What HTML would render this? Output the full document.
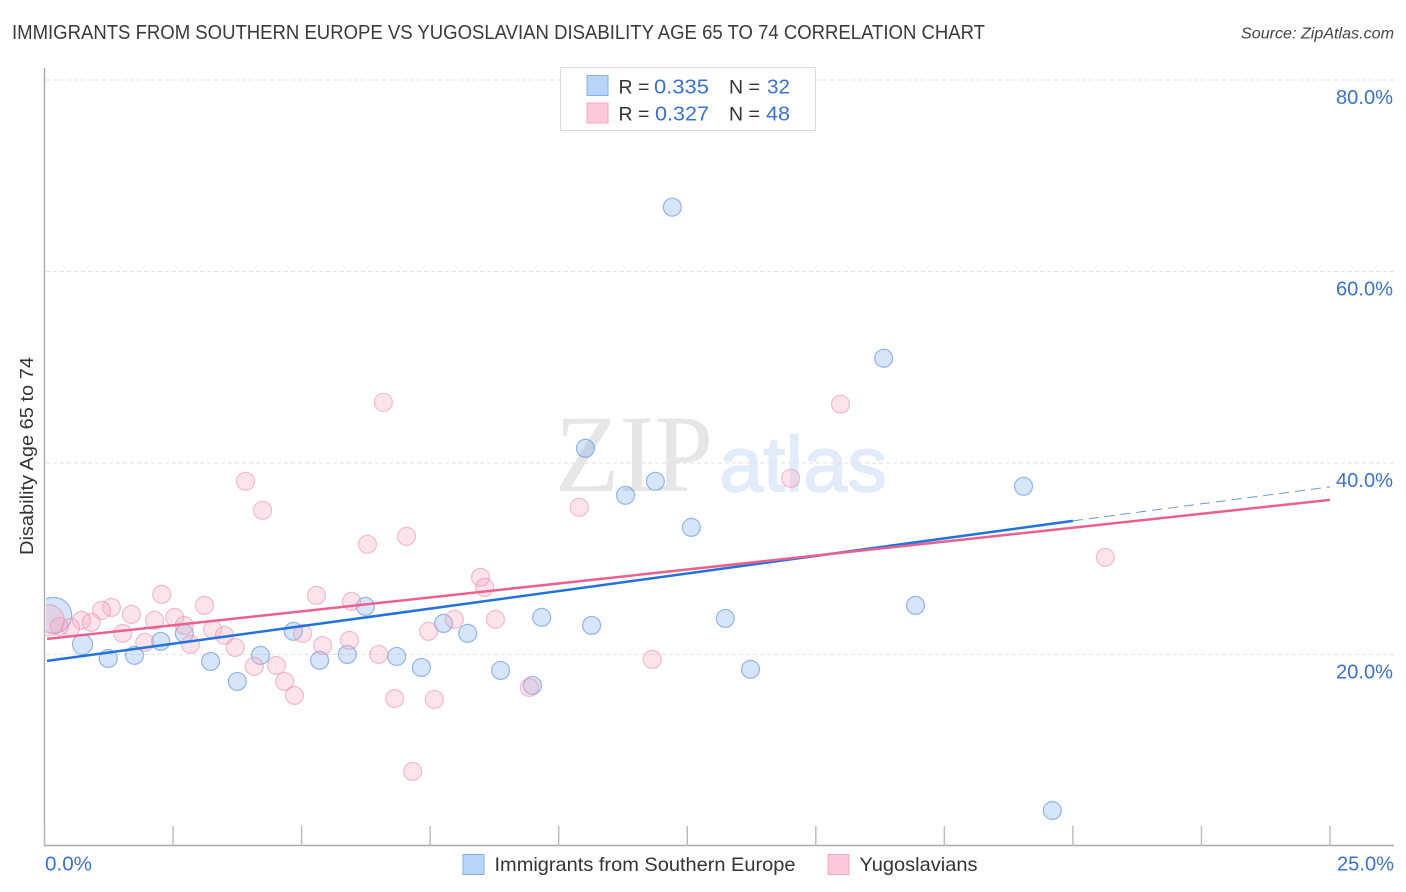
<!DOCTYPE html>
<html lang="en">
<head>
<meta charset="utf-8">
<title>Immigrants from Southern Europe vs Yugoslavian Disability Age 65 to 74 Correlation Chart</title>
<style>
html,body{margin:0;padding:0;background:#fff;}
svg{display:block;font-family:"Liberation Sans",sans-serif;}
</style>
</head>
<body>
<svg id="chart" xmlns="http://www.w3.org/2000/svg" width="1406" height="892" viewBox="0 0 1406 892">
  <rect x="0" y="0" width="1406" height="892" fill="#fff"/>
  <text x="12" y="39" font-size="20" fill="#3a3a3a" textLength="973" lengthAdjust="spacingAndGlyphs">IMMIGRANTS FROM SOUTHERN EUROPE VS YUGOSLAVIAN DISABILITY AGE 65 TO 74 CORRELATION CHART</text>
  <text x="1241" y="38.5" font-size="15.5" font-style="italic" fill="#444" textLength="153" lengthAdjust="spacingAndGlyphs">Source: ZipAtlas.com</text>
  <g>
    <text x="555" y="491" font-family="'Liberation Serif',serif" font-size="110" fill="#e6e6e6" textLength="158" lengthAdjust="spacingAndGlyphs">ZIP</text>
    <text x="719" y="491" font-size="78" fill="#e2ebf9" stroke="#e2ebf9" stroke-width="1.5" textLength="168" lengthAdjust="spacingAndGlyphs">atlas</text>
  </g>
  <g id="grid"></g>
  <g id="axes"></g>
  <g id="points" clip-path="url(#plot-clip)" transform="translate(0.5,0.5)"></g>
  <g id="trends"></g>
  <g id="ticklabels"></g>
  <clipPath id="plot-clip"><rect x="45.5" y="68" width="1348" height="778"/></clipPath>
  <text transform="translate(33,456) rotate(-90)" text-anchor="middle" font-size="18" fill="#333" textLength="198" lengthAdjust="spacingAndGlyphs">Disability Age 65 to 74</text>

  <g>
    <rect x="560.5" y="67.5" width="255" height="63" fill="#fff" stroke="#dcdcdc" stroke-width="1"/>
    <rect x="587" y="75.5" width="21" height="20" fill="#b9d4f9" stroke="#86afe6" stroke-width="1"/>
    <text x="618.5" y="93.5" font-size="19.5" fill="#333">R =</text>
    <text x="654" y="93.5" font-size="20.5" fill="#3a72d2" textLength="55" lengthAdjust="spacingAndGlyphs">0.335</text>
    <text x="729" y="93.5" font-size="19.5" fill="#333">N =</text>
    <text x="767" y="93.5" font-size="20.5" fill="#3a72d2" textLength="23" lengthAdjust="spacingAndGlyphs">32</text>
    <rect x="587" y="103" width="21" height="20" fill="#fdc9da" stroke="#f0a9c1" stroke-width="1"/>
    <text x="618.5" y="120.5" font-size="19.5" fill="#333">R =</text>
    <text x="655" y="120.5" font-size="20.5" fill="#3a72d2" textLength="54" lengthAdjust="spacingAndGlyphs">0.327</text>
    <text x="729" y="120.5" font-size="19.5" fill="#333">N =</text>
    <text x="766" y="120.5" font-size="20.5" fill="#3a72d2" textLength="24" lengthAdjust="spacingAndGlyphs">48</text>
  </g>

  <g>
    <rect x="463" y="854.5" width="21" height="20" fill="#b9d4f9" stroke="#86afe6" stroke-width="1"/>
    <text x="494.5" y="871" font-size="19.5" fill="#333" textLength="301" lengthAdjust="spacingAndGlyphs">Immigrants from Southern Europe</text>
    <rect x="828" y="854.5" width="21" height="20" fill="#fdc9da" stroke="#f0a9c1" stroke-width="1"/>
    <text x="859.5" y="871" font-size="19.5" fill="#333" textLength="118" lengthAdjust="spacingAndGlyphs">Yugoslavians</text>
  </g>
</svg>
<script>
// Category / tick data
var yTickValues = [20, 40, 60, 80];
var yTickLabels = ['20.0%', '40.0%', '60.0%', '80.0%'];
var xTickValues = [0, 2.5, 5, 7.5, 10, 12.5, 15, 17.5, 20, 22.5, 25];
var xEndValues = [0, 25];
var xEndLabels = ['0.0%', '25.0%'];

// Immigrants from Southern Europe: x %, y %, relative sample weight
var blueX = [12.20,16.31,10.51,11.87,11.29,19.03,12.57,6.23,16.93,9.66,13.23,10.63,4.83,7.75,8.22,2.71,2.25,0.73,1.23,1.74,3.22,4.19,5.34,5.88,6.84,7.32,8.86,9.48,13.72,3.74,19.59,0.17];
var blueY = [66.77,50.99,41.59,38.14,36.68,37.62,33.33,25.08,25.18,23.93,23.82,23.09,22.47,23.30,22.26,22.26,21.42,21.11,19.64,19.96,19.33,19.96,19.44,20.06,19.85,18.70,18.39,16.82,18.50,17.24,3.76,24.14];
var blueWeight = [1,1,1,1,1,1,1,1,1,1,1,1,1,1,1,1,1,1.25,1,1,1,1,1,1,1,1,1,1,1,1,1,4];

// Yugoslavians: x %, y %, relative sample weight
var pinkX = [6.58,15.47,3.90,4.23,14.50,10.39,7.03,6.27,20.62,8.47,8.55,2.27,5.28,5.96,3.10,1.29,1.10,1.68,0.71,0.90,2.13,2.52,2.71,7.96,8.76,7.46,3.26,3.49,5.01,1.51,1.94,2.83,3.70,5.92,5.40,6.49,4.07,4.50,4.66,4.85,6.80,7.57,9.42,11.81,7.15,0.50,0.28,0.07];
var pinkY = [46.39,46.19,38.14,35.11,38.45,35.42,32.39,31.56,30.20,28.11,27.06,26.33,26.23,25.60,25.18,24.97,24.66,24.24,23.62,23.41,23.62,23.93,23.09,23.72,23.72,22.47,22.68,22.05,22.26,22.26,21.32,21.11,20.79,21.53,21.00,20.06,18.81,18.91,17.24,15.78,15.46,15.36,16.61,19.54,7.84,22.88,22.99,23.62];
var pinkWeight = [1,1,1,1,1,1,1,1,1,1,1,1,1,1,1,1,1,1,1,1,1,1,1,1,1,1,1,1,1,1,1,1,1,1,1,1,1,1,1,1,1,1,1,1,1,1,1,3];

// Trend endpoints: x %, y %
var blueTrendX = [0.05, 20];
var blueTrendY = [19.33, 33.96];
var blueProjectionX = [20, 25];
var blueProjectionY = [33.96, 37.51];
var pinkTrendX = [0.05, 25];
var pinkTrendY = [21.63, 36.15];

var NS = 'http://www.w3.org/2000/svg';
function xScale(v) { return 44.5 + v * (1330 - 44.5) / 25; }
function yScale(v) { return 846 - v * (846 - 80) / 80; }
function rScale(w) { return 9 * Math.sqrt(w); }
function make(tag, parent, attrs) {
  var el = document.createElementNS(NS, tag);
  Object.keys(attrs).forEach(function (k) { el.setAttribute(k, attrs[k]); });
  parent.appendChild(el);
  return el;
}

var grid = document.getElementById('grid');
var axes = document.getElementById('axes');
var pointsLayer = document.getElementById('points');
var trends = document.getElementById('trends');
var labels = document.getElementById('ticklabels');

yTickValues.forEach(function (v, i) {
  var line = make('line', grid, { x1: 46, x2: 1394, y1: yScale(v), y2: yScale(v), stroke: '#e2e2e2', 'stroke-width': 1, 'stroke-dasharray': '4 3' });
  
  
  var label = make('text', labels, { x: 1336, y: yScale(v) + 24, 'font-size': 20, fill: '#3a72d2', textLength: 57, lengthAdjust: 'spacingAndGlyphs' });
  
  
  label.textContent = yTickLabels[i];
});

var yAxisLine = make('line', axes, { x1: 44.5, x2: 44.5, y1: 68, y2: 846, stroke: '#aaa', 'stroke-width': 1.4 });


var xAxisLine = make('line', axes, { x1: 44, x2: 1394, y1: 845.5, y2: 845.5, stroke: '#aaa', 'stroke-width': 1.4 });



xTickValues.forEach(function (v) {
  var tick = make('line', axes, { x1: xScale(v), x2: xScale(v), y1: 826, y2: 846, stroke: '#bbb', 'stroke-width': 1.4 });
  
  
});

xEndValues.forEach(function (v, i) {
  var label = make('text', labels, { x: i === 0 ? xScale(v) + 0.5 : 1337, y: 870.5, 'font-size': 20, fill: '#3a72d2', textLength: i === 0 ? 47 : 57, lengthAdjust: 'spacingAndGlyphs' });
  
  
  label.textContent = xEndLabels[i];
});

blueX.forEach(function (v, i) {
  var c = make('circle', pointsLayer, { cx: xScale(v), cy: yScale(blueY[i]), r: rScale(blueWeight[i]), fill: 'rgba(118,170,240,0.3)', stroke: 'rgba(60,120,215,0.5)', 'stroke-width': 1.2 });
  
  
});
pinkX.forEach(function (v, i) {
  var c = make('circle', pointsLayer, { cx: xScale(v), cy: yScale(pinkY[i]), r: rScale(pinkWeight[i]), fill: 'rgba(248,165,190,0.3)', stroke: 'rgba(235,130,165,0.5)', 'stroke-width': 1.2 });
  
  
});

var blueProjection = make('line', trends, { x1: xScale(blueProjectionX[0]), y1: yScale(blueProjectionY[0]), x2: xScale(blueProjectionX[1]), y2: yScale(blueProjectionY[1]), stroke: '#6f97cf', 'stroke-width': 1, 'stroke-dasharray': '10 6' });


var blueTrend = make('line', trends, { x1: xScale(blueTrendX[0]), y1: yScale(blueTrendY[0]), x2: xScale(blueTrendX[1]), y2: yScale(blueTrendY[1]), stroke: '#2272d9', 'stroke-width': 2.5 });


var pinkTrend = make('line', trends, { x1: xScale(pinkTrendX[0]), y1: yScale(pinkTrendY[0]), x2: xScale(pinkTrendX[1]), y2: yScale(pinkTrendY[1]), stroke: '#e9628f', 'stroke-width': 2.5 });


</script>
</body>
</html>
